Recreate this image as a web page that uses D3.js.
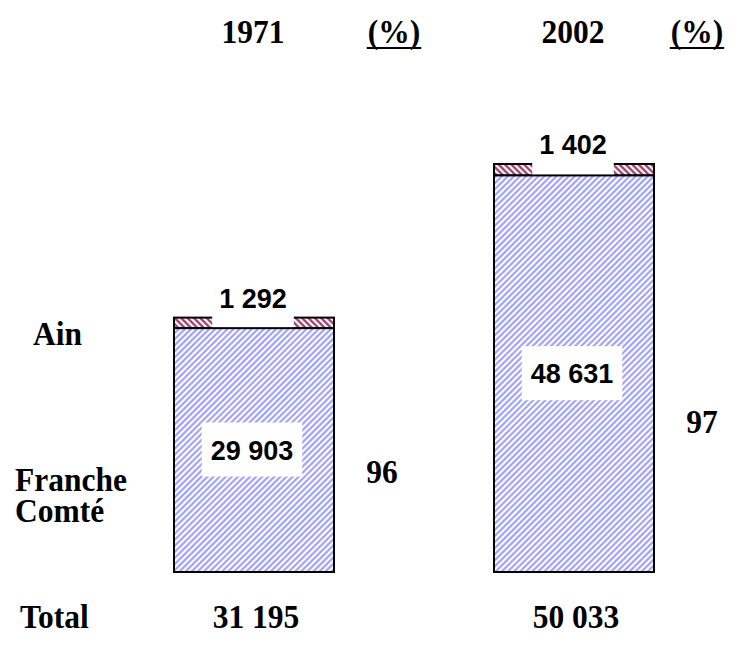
<!DOCTYPE html>
<html>
<head>
<meta charset="utf-8">
<script src="https://cdn.jsdelivr.net/npm/d3@7"></script>
<style>
  body { margin: 0; background: #fff; }
  svg { display: block; }
</style>
</head>
<body>
<svg id="chart" width="747" height="657"></svg>
<script>
// Stacked bars: Ain (top band) over Franche Comté, 1971 vs 2002.

const years = ["1971", "2002"];
const ainValues = [1292, 1402];
const francheValues = [29903, 48631];
const totals = [31195, 50033];
const franchePct = [96, 97];

const svg = d3.select("#chart");
const serif = "'Liberation Serif', 'Times New Roman', serif";
const sans = "'Liberation Sans', Arial, sans-serif";
const fmt = v => d3.format(",")(v).replace(/,/g, " ");

const x = d3.scaleBand().domain(years).range([174, 654]).paddingInner(0.5);
const y = d3.scaleLinear().domain([0, 50033]).range([572, 164]);

// hatch patterns
const defs = svg.append("defs");
function hatch(id, color, angle, size, lw) {
  const p = defs.append("pattern")
    .attr("id", id)
    .attr("patternUnits", "userSpaceOnUse")
    .attr("width", size)
    .attr("height", size)
    .attr("patternTransform", `rotate(${angle})`);
  p.append("rect").attr("width", size).attr("height", size).attr("fill", "#fff");
  p.append("line")
    .attr("x1", size / 2).attr("x2", size / 2)
    .attr("y1", 0).attr("y2", size)
    .attr("stroke", color)
    .attr("stroke-width", lw);
}
hatch("blueHatch", "#9999f2", 45, 4.3, 2);
hatch("redHatch", "#993366", -45, 4.5, 2.2);

const rows = years.map((yr, i) => ({
  year: yr, ain: ainValues[i], fc: francheValues[i], total: totals[i], pct: franchePct[i]
}));

rows.forEach(d => {
  const x0 = x(d.year);
  const bw = x.bandwidth();
  const cx = x0 + bw / 2;
  const fcTop = y(d.fc);
  const ainTop = y(d.fc + d.ain);

  // Ain band
  svg.append("rect")
    .attr("x", x0).attr("y", ainTop)
    .attr("width", bw).attr("height", fcTop - ainTop)
    .attr("fill", "url(#redHatch)")
    .attr("stroke", "#000").attr("stroke-width", 2);

  // Ain label with a white box reaching down into the band
  const ainLabel = svg.append("text")
    .attr("x", cx - 1).attr("y", ainTop - 10)
    .attr("text-anchor", "middle")
    .attr("font-family", sans).attr("font-weight", "bold").attr("font-size", 27)
    .text(fmt(d.ain));
  const ab = ainLabel.node().getBBox();
  svg.insert("rect", () => ainLabel.node())
    .attr("x", ab.x - 7).attr("y", ab.y - 2)
    .attr("width", ab.width + 14).attr("height", fcTop - ab.y + 2)
    .attr("fill", "#fff");

  // Franche Comté segment
  svg.append("rect")
    .attr("x", x0).attr("y", fcTop)
    .attr("width", bw).attr("height", y(0) - fcTop)
    .attr("fill", "url(#blueHatch)")
    .attr("stroke", "#000").attr("stroke-width", 2);

  const fcMid = (fcTop + y(0)) / 2;
  const fcLabel = svg.append("text")
    .attr("x", cx - 2).attr("y", fcMid)
    .attr("dy", "0.35em")
    .attr("text-anchor", "middle")
    .attr("font-family", sans).attr("font-weight", "bold").attr("font-size", 27)
    .text(fmt(d.fc));
  const fb = fcLabel.node().getBBox();
  svg.insert("rect", () => fcLabel.node())
    .attr("x", fb.x - 9).attr("y", fb.y - 13)
    .attr("width", fb.width + 18).attr("height", fb.height + 24)
    .attr("fill", "#fff");
});

// serif texts, slightly stretched vertically like the original
function serifText(txt, xx, yy, anchor) {
  return svg.append("text")
    .attr("transform", `translate(${xx},${yy}) scale(1,1.08)`)
    .attr("text-anchor", anchor || "middle")
    .attr("font-family", serif).attr("font-weight", "bold").attr("font-size", 31.5)
    .text(txt);
}

// header
const pctX = [394, 697];
rows.forEach((d, i) => {
  serifText(d.year, x(d.year) + x.bandwidth() / 2 - 1, 43);
  const t = serifText("(%)", pctX[i], 43);
  const w = t.node().getBBox().width;
  svg.append("line")
    .attr("x1", pctX[i] - w / 2 - 1).attr("x2", pctX[i] + w / 2 + 1)
    .attr("y1", 48).attr("y2", 48)
    .attr("stroke", "#000").attr("stroke-width", 2.2);
});

// row labels
serifText("Ain", 33, 345, "start");
serifText("Franche", 15, 491, "start");
serifText("Comté", 15, 522, "start");
serifText("Total", 20, 628, "start");

// percentages
const pctPos = [[382, 483], [702, 433]];
rows.forEach((d, i) => serifText(String(d.pct), pctPos[i][0], pctPos[i][1]));

// totals
rows.forEach(d => serifText(fmt(d.total), x(d.year) + x.bandwidth() / 2 + 2, 628));
</script>
</body>
</html>
